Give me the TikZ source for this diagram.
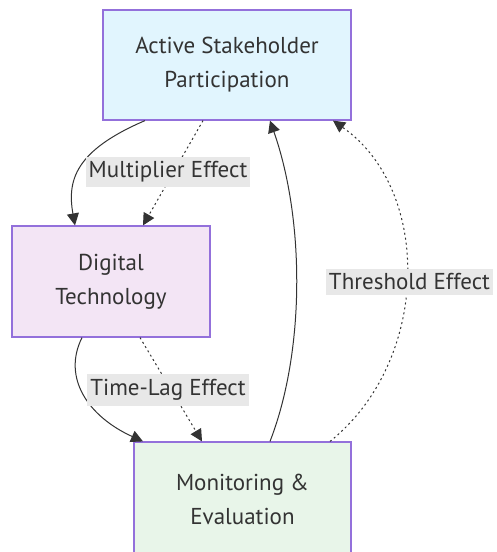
\documentclass[tikz,border=0pt]{standalone}
\usepackage{fontspec}
\setmainfont{PT Sans}
\usetikzlibrary{arrows.meta, positioning, calc}
\definecolor{edgeblue}{HTML}{E1F5FE}
\definecolor{edgepink}{HTML}{F3E5F5}
\definecolor{edgegreen}{HTML}{E8F5E9}
\definecolor{boxline}{HTML}{9370DB}
\definecolor{ink}{HTML}{333333}
\definecolor{lblgray}{HTML}{E8E8E8}
\begin{document}
\begin{tikzpicture}[x=1pt, y=-1pt,
box/.style={rectangle, draw=boxline, line width=1.2pt, align=center, text=ink, font=\fontsize{23}{34}\selectfont, inner sep=0pt},
lbl/.style={rectangle, fill=lblgray, text=ink, font=\fontsize{23}{26}\selectfont, inner xsep=3pt, inner ysep=5pt},
flow/.style={draw=ink, line width=1pt, -{Triangle[length=12pt,width=12pt]}},
dotflow/.style={flow, dash pattern=on 2pt off 3pt} ]
\useasboundingbox (0,0) rectangle (496,552);
\node (P) [box, fill=edgeblue, minimum width=248pt, minimum height=110pt] at (227,65) {Active Stakeholder\\Participation};
\node (D) [box, fill=edgepink, minimum width=198pt, minimum height=111pt] at (111,281.5) {Digital\\Technology};
\node (M) [box, fill=edgegreen, minimum width=217pt, minimum height=114pt] at (242.5,499) {Monitoring \&\\Evaluation};

\draw[flow] ([xshift=-82pt]P.south) .. controls +(-70,30) and +(-8,-45) .. ([xshift=-36pt]D.north);
\draw[dotflow] ([xshift=-24pt]P.south) -- ([xshift=32pt]D.north);
\draw[flow] ([xshift=-29pt]D.south) .. controls +(-20,40) and +(-55,-25) .. ([xshift=-99.5pt]M.north);
\draw[dotflow] ([xshift=29pt]D.south) -- ([xshift=-40.5pt]M.north);
\draw[flow] ([xshift=27.5pt]M.north) .. controls +(35,-90) and +(35,100) .. ([xshift=43pt]P.south);
\draw[dotflow] ([xshift=87.5pt]M.north) .. controls +(100,-80) and +(100,70) .. ([xshift=106pt]P.south);

\node (Lm) [lbl] at (168,172) {Multiplier Effect};
\node (Lt) [lbl] at (168,390) {Time-Lag Effect};
\node (Lh) [lbl] at (409.5,282) {Threshold Effect};
\end{tikzpicture}
\end{document}
